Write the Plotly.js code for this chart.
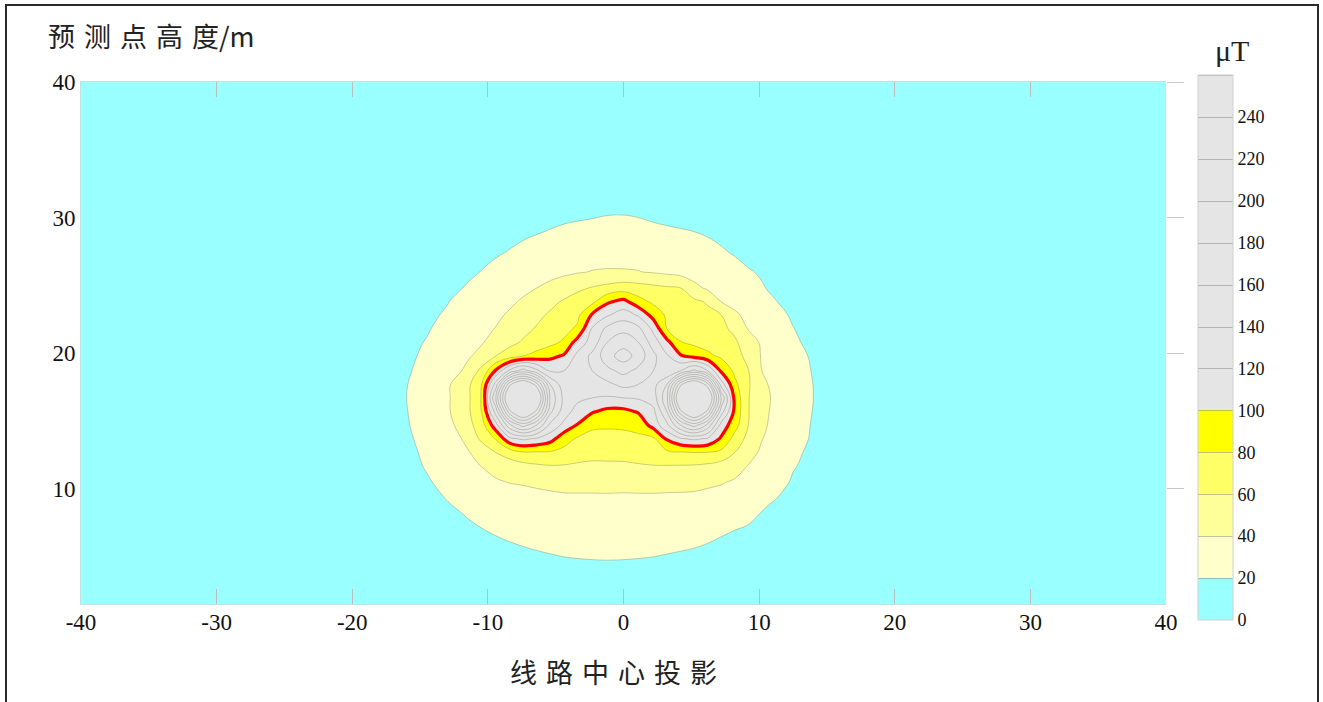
<!DOCTYPE html>
<html><head><meta charset="utf-8">
<script src="https://cdn.plot.ly/plotly-3.0.1.min.js"></script>
<style>
html,body{margin:0;padding:0;background:#ffffff;}
#chart{position:absolute;left:0;top:0;width:1323px;height:702px;}
#frame{position:absolute;left:5px;top:4px;width:1314px;height:800px;box-sizing:border-box;border:2px solid #2a2a2a;pointer-events:none;}
</style></head><body>
<div id="chart"></div><div id="frame"></div>
<script>
// grid positions (m)
const xPos = [-40,-30,-24,-20,-17.5,-16,-14.5,-13,-12,-11.4,-10.4,-9.4,-8.4,-7.4,-6.4,-5.4,-4.4,-3.4,-2.3,-1.2,0,1.1,2.2,3.2,4.2,5.2,6.2,7.2,8.2,9.2,10.2,11.2,12.5,14,15.5,18,22,28,40];
const yPos = [1.5,3,5,7,9,10.5,11.7,12.7,13.7,14.7,15.7,16.7,17.7,18.7,19.8,20.8,21.8,22.8,23.8,24.8,26,27.5,29,30.5,32.5,35,40];

// magnetic flux density (μT), one row per height
const B_y01_5 = [2.5,4,5.5,7,8,9,10,10.5,11,11.3,11.6,12,12.2,12.4,12.6,12.7,12.8,12.9,12.9,12.9,12.9,12.8,12.7,12.5,12.3,12,11.7,11.3,11,10.6,10.2,9.8,9.2,8.5,7.8,6.8,5.5,4,2.5];
const B_y03_0 = [2.7,4.3,6,7.8,9,10,11.2,12,12.6,13,13.5,14,14.5,14.9,15.3,15.6,15.8,16,16.1,16.1,16.1,16,15.8,15.5,15.2,14.8,14.3,13.8,13.2,12.6,11.5,11,10.2,9.4,8.6,7.4,5.9,4.2,2.6];
const B_y05_0 = [3,4.8,6.7,8.5,9.8,10.6,11.5,12.3,13,13.5,14.2,15.1,16.1,17.2,18.3,19.2,20.05,20.3,20.5,20.6,20.5,20.3,20.05,19.26,18.5,17.8,16.7,14.9,13.6,12.9,12.2,11.6,10.8,10,9.2,8,6.5,4.6,2.8];
const B_y07_0 = [3.1,5.3,7.7,10.2,12,13,14,15.2,16,17.7,19.8,21.5,23.2,24.7,25.9,26.9,27.8,28.4,28.8,29,28.9,28.5,27.9,27.1,26.1,24.9,23.5,21.9,20.2,18.8,16.4,15.6,14.6,13.5,12.2,10.2,7.7,5.3,3];
const B_y09_0 = [3.2,5.7,8.4,11.3,13,14.2,17.2,19.7,22.3,23.9,26.3,28.5,30.5,32.2,33.7,35,36.5,36.8,37.1,37.3,37.2,37.1,37,36.8,36.5,36,35,33.3,29.5,25.8,21.8,19.4,17.4,15.5,13.8,11.3,8.4,5.7,3.2];
const B_y10_5 = [3.3,6,9,12.1,14,15,18.6,23.8,27.7,30,33.8,38.3,40.6,41.6,42.9,43.8,44,43.8,43.5,43.4,43.2,43.6,43.8,43.6,43.6,43.5,42.3,41,38.6,33.1,28.7,24.2,18.8,15.8,14.4,11.8,8.8,6,3.3];
const B_y11_7 = [3.4,6.1,9.2,12.4,14.5,15.5,21.2,28.6,33.3,36.2,40.8,45.5,50,54,57.5,59.5,59,57.8,57.2,57.3,57.4,58.5,59.5,59.5,59.2,58.8,56.5,52,45.5,39.5,34.1,26.5,20.8,16.9,15.3,12.5,9.2,6.2,3.4];
const B_y12_7 = [3.5,6.2,9.4,12.6,15.3,17.6,21.8,29,36.1,39.2,49.5,60.5,70,79.5,79,78.5,75,68,65,65.3,65.8,68,72.5,77,79.5,80.5,80.5,76,60.5,46.5,37.3,30,22.5,17.4,15.8,12.8,9.5,6.3,3.5];
const B_y13_7 = [3.5,6.3,9.5,12.8,15.5,17.9,24,31.5,39.4,48.3,64.8,81.8,115,124,118,108,87.7,78,75,74,74.2,76.5,77,103,118,124,118,97.5,72.9,54.2,40.6,34.5,26.7,17.9,16.2,13,9.7,6.4,3.5];
const B_y14_7 = [3.6,6.4,9.6,13,16,18.6,27.1,35.7,44,53.6,74.1,113,175,210,180,135,115,99,83,82.5,83.4,86,108,135,180,210,175,113,88,60,43.3,35.2,27.5,18.6,16.6,13.2,9.8,6.5,3.6];
const B_y15_7 = [3.6,6.4,9.7,13.1,16.3,19.4,28.4,37.4,48.7,57.7,82,150,255,300,255,165,130,112,102,95,94.9,102,115,160,255,300,255,150,95,61,44.8,35.9,28.2,19.5,16.8,13.3,9.9,6.5,3.6];
const B_y16_7 = [3.6,6.5,9.8,13.2,16.4,20,28.7,37.5,48.7,57.7,83,185,300,340,300,175,135,125,120,118,120,122,130,175,300,340,300,180,94,61,46.2,36.5,28.8,20,17,13.4,10,6.6,3.6];
const B_y17_7 = [3.6,6.4,9.7,13.1,16.3,19.4,28.4,37.3,48.1,57,82,150,255,295,250,160,128,122,128,135,146,140,133,160,255,295,250,130,85,62.3,43.6,35.5,28.2,19.8,16.8,13.3,9.9,6.5,3.6];
const B_y18_7 = [3.5,6.3,9.6,12.9,16,18.2,25,33.9,39.2,47.2,66.2,103,145,170,145,118,120,128,140,155,165.5,155,140,122,140,165,140,97,76.2,60.8,40,34.4,27.2,19,16.5,13.1,9.8,6.4,3.5];
const B_y19_8 = [3.5,6.2,9.4,12.6,15.4,17.3,22.5,29.5,35.1,37.9,47.1,60,69.5,79.5,86.8,95,102,125,145,172,190,172,145,122,102,92.8,84.8,76.3,67,54.7,38.4,32.9,25.8,17.8,15.8,12.8,9.6,6.3,3.5];
const B_y20_8 = [3.4,6.1,9.2,12.2,14.5,16.2,20.8,27.6,32,34.7,39.1,46.5,54.7,62.2,68.3,74.5,82.9,108,128,160,171,160,130,106,80.5,75.9,71.4,66.8,62.3,52,36.4,29.5,22,16.8,15.4,12.6,9.4,6.2,3.4];
const B_y21_8 = [3.3,5.9,8.9,11.8,13.8,15.2,18.7,24.9,29.2,31.8,36.1,40.7,47.7,54.7,61.6,67.8,74.1,83,122,145,155,145,115,80,75.9,71.8,67.6,63.5,56.7,38.6,33.2,26.5,20.3,16.2,15,12.2,9.1,6,3.3];
const B_y22_8 = [3.3,5.8,8.7,11.5,13.4,14.5,17.5,21.5,26.4,28.9,33,37.1,42.1,49,55.9,62.6,69,75.5,103,118,130,118,93,76.8,72.7,68.7,64.6,60.6,43,35.4,30,23.5,18.6,15.9,14.6,11.9,8.9,5.9,3.3];
const B_y23_8 = [3.2,5.7,8.5,11.1,13,14,17,19.4,23,25.3,29.3,33.3,37.2,42,48.7,55.3,61.9,68.3,75.2,97,105.9,87.3,76.3,72.1,67.9,63.8,58.1,39.8,34.9,30.1,25.3,20.3,17.5,15.4,14,11.5,8.7,5.8,3.2];
const B_y24_8 = [3.2,5.6,8.3,10.8,12.8,13.6,16,18,19.6,21.3,25.3,29,32.7,36.3,40,45.4,50.8,56.2,61.5,66,70.3,68,65,62.4,60.4,45.6,37.2,33.2,29.2,25.2,20.6,18.5,16.8,14.8,13.5,11.2,8.5,5.7,3.2];
const B_y26_0 = [3.1,5.5,8.1,10.5,12.6,13.9,15.2,16.8,18,18.2,20.4,23,25.6,28.2,30.8,33.5,36.1,38.5,40.6,41.2,41.1,40.5,38.3,36,33.5,31,28.5,26,23.5,20.6,19.2,18,16.3,14.3,13.2,11,8.4,5.6,3.1];
const B_y27_5 = [3,5.3,7.8,10,11.8,12.8,13.8,14.9,15.8,16.3,17.3,18.6,20.4,22.6,25,27.2,29.2,31,32.5,33.5,33.5,33,31.8,30.2,28.2,26,23.6,21,18.9,17.6,16.6,15.7,14.6,13.4,12.3,10.5,8.1,5.4,3];
const B_y29_0 = [2.9,5.1,7.5,9.5,11,11.8,12.6,13.5,14.1,14.5,15.2,16,16.8,17.8,19,20.5,22,22.85,23.5,24.9,24.9,23.2,21.6,21,20.5,19.9,18.5,17.4,16.5,15.7,15,14.3,13.5,12.5,11.6,10,7.8,5.2,2.9];
const B_y30_5 = [2.8,4.9,7.2,9,10.3,10.9,11.5,12.1,12.5,12.7,13.1,13.5,13.9,14.3,14.8,15.5,16.2,17,17.8,18.5,18.7,18.4,17.9,17.3,16.7,16.1,15.5,15,14.5,14,13.5,13,12.4,11.7,11,9.6,7.5,5,2.8];
const B_y32_5 = [2.7,4.6,6.8,8.4,9.6,10.2,10.8,11.4,11.8,12.1,12.5,12.9,13.3,13.7,14.1,14.5,14.8,15.1,15.3,15.4,15.3,15.2,15,14.7,14.4,14,13.6,13.2,12.8,12.4,12,11.6,11.1,10.5,9.9,8.9,7.1,4.8,2.7];
const B_y35_0 = [2.6,4.3,6.3,7.7,8.6,9.1,9.5,9.9,10.2,10.4,10.7,11,11.3,11.5,11.8,12,12.2,12.3,12.4,12.5,12.4,12.3,12.2,12,11.8,11.6,11.3,11.1,10.8,10.5,10.2,9.9,9.5,9,8.6,7.9,6.5,4.5,2.6];
const B_y40_0 = [2.3,3.8,5.2,6.2,6.8,7.1,7.4,7.6,7.8,7.9,8,8.2,8.3,8.4,8.5,8.6,8.7,8.7,8.8,8.8,8.8,8.7,8.7,8.6,8.5,8.4,8.3,8.1,8,7.8,7.6,7.4,7.1,6.8,6.5,6,5.1,3.9,2.3];

const fieldB = [B_y01_5,B_y03_0,B_y05_0,B_y07_0,B_y09_0,B_y10_5,B_y11_7,B_y12_7,B_y13_7,B_y14_7,B_y15_7,B_y16_7,B_y17_7,B_y18_7,B_y19_8,B_y20_8,B_y21_8,B_y22_8,B_y23_8,B_y24_8,B_y26_0,B_y27_5,B_y29_0,B_y30_5,B_y32_5,B_y35_0,B_y40_0];

// colour bands of the scale
const bandEdges = [0,20,40,60,80,100,260];
const bandColors = ['#99FFFF','#FFFFCC','#FFFF99','#FFFF66','#FFFF00','#E5E5E5'];
const limitLevel = 100;
const scaleTicks = [0,20,40,60,80,100,120,140,160,180,200,220,240];
const xTicks = [-40,-30,-20,-10,0,10,20,30,40];
const yTicks = [10,20,30,40];

const zMax = bandEdges[bandEdges.length-1];
const levelStep = 20;

// colourscale for filled contour bands (plotly maps band midpoints)
function fillScale(){
  const s=[]; const n=bandColors.length;
  for(let i=0;i<n;i++){
    const lo = i===0?0:(bandEdges[i]-levelStep/2)/zMax;
    const hi = i===n-1?1:(bandEdges[i+1]-levelStep/2)/zMax;
    s.push([lo,bandColors[i]]); s.push([hi,bandColors[i]]);
  }
  return s;
}
// colourscale for the colour bar (value based)
function barScale(){
  const s=[]; const n=bandColors.length;
  for(let i=0;i<n;i++){
    s.push([bandEdges[i]/zMax,bandColors[i]]); s.push([bandEdges[i+1]/zMax,bandColors[i]]);
  }
  return s;
}

const serif = 'Liberation Serif, Times New Roman, serif';
const cjk = 'Noto Sans CJK SC, sans-serif';
const gap = '\u2004';

const traces = [
  {
    type:'contour', x:xPos, y:yPos, z:fieldB,
    autocontour:false,
    contours:{start:levelStep, end:zMax, size:levelStep, coloring:'fill', showlines:true},
    colorscale:fillScale(),
    line:{color:'rgba(95,95,85,0.40)', width:0.8, smoothing:1.1},
    showscale:false, hoverinfo:'skip'
  },
  {
    type:'contour', x:xPos, y:yPos, z:fieldB,
    autocontour:false,
    contours:{start:limitLevel, end:limitLevel, size:levelStep, coloring:'lines'},
    colorscale:[[0,'#FF0000'],[1,'#FF0000']],
    line:{width:3.2, smoothing:1.1},
    showscale:false, hoverinfo:'skip'
  },
  {
    // colour bar only (data placed outside the visible window)
    type:'contour', x:[200,201], y:[200,201], z:[[0,zMax],[0,zMax]],
    zauto:false, zmin:0, zmax:zMax,
    autocontour:false,
    contours:{start:levelStep, end:zMax, size:levelStep, coloring:'heatmap'},
    colorscale:barScale(),
    line:{color:'rgba(120,120,120,0.45)', width:1},
    yaxis:'y2', hoverinfo:'skip', showscale:true,
    colorbar:{
      thickness:35, thicknessmode:'pixels', len:545, lenmode:'pixels',
      x:1.0295, xanchor:'left', xpad:0, y:0.4914, yanchor:'middle', ypad:0,
      tickmode:'array', tickvals:scaleTicks, ticks:'',
      tickfont:{family:serif, size:18, color:'#111'},
      outlinewidth:1, outlinecolor:'#d0d0d0'
    }
  }
];

const layout = {
  width:1323, height:702,
  margin:{l:81, r:157, t:82, b:98},
  paper_bgcolor:'#ffffff', plot_bgcolor:'#99FFFF',
  showlegend:false,
  xaxis:{range:[-40,40], tickmode:'array', tickvals:xTicks, ticktext:xTicks.map(v=>String(v)),
         ticks:'inside', ticklen:15, tickwidth:1, tickcolor:'#bdbdbd',
         showline:true, linecolor:'rgba(150,205,205,0.6)', linewidth:1, mirror:'ticks',
         showgrid:false, zeroline:false, tickfont:{family:serif, size:23, color:'#111'}, ticklabelstandoff:-3},
  yaxis:{range:[1.5,40], tickmode:'array', tickvals:yTicks, ticktext:yTicks.map(v=>String(v)), ticks:'', showgrid:false, zeroline:false,
         showline:true, linecolor:'rgba(150,205,205,0.6)', linewidth:1,
         tickfont:{family:serif, size:23, color:'#111'}},
  yaxis2:{range:[1.5,40], overlaying:'y', side:'right', tickmode:'array', tickvals:yTicks, ticks:'outside', ticklen:17,
          tickcolor:'#c8c8c8', tickwidth:1, showticklabels:false, showgrid:false, zeroline:false, showline:false},
  annotations:[
    {text:['预','测','点','高','度/m'].join(gap), xref:'paper', yref:'paper', x:-0.0323, y:1.090, xanchor:'left', yanchor:'middle',
     showarrow:false, font:{family:cjk, size:27, color:'#222'}},
    {text:['线','路','中','心','投','影'].join(gap), xref:'paper', yref:'paper', x:0.4912, y:-0.1284, xanchor:'center', yanchor:'middle',
     showarrow:false, font:{family:cjk, size:27, color:'#222'}},
    {text:'μT', xref:'paper', yref:'paper', x:1.0608, y:1.0613, xanchor:'center', yanchor:'middle',
     showarrow:false, font:{family:serif, size:30, color:'#222'}}
  ]
};

Plotly.newPlot('chart', traces, layout, {displayModeBar:false, staticPlot:true});
</script></body></html>
